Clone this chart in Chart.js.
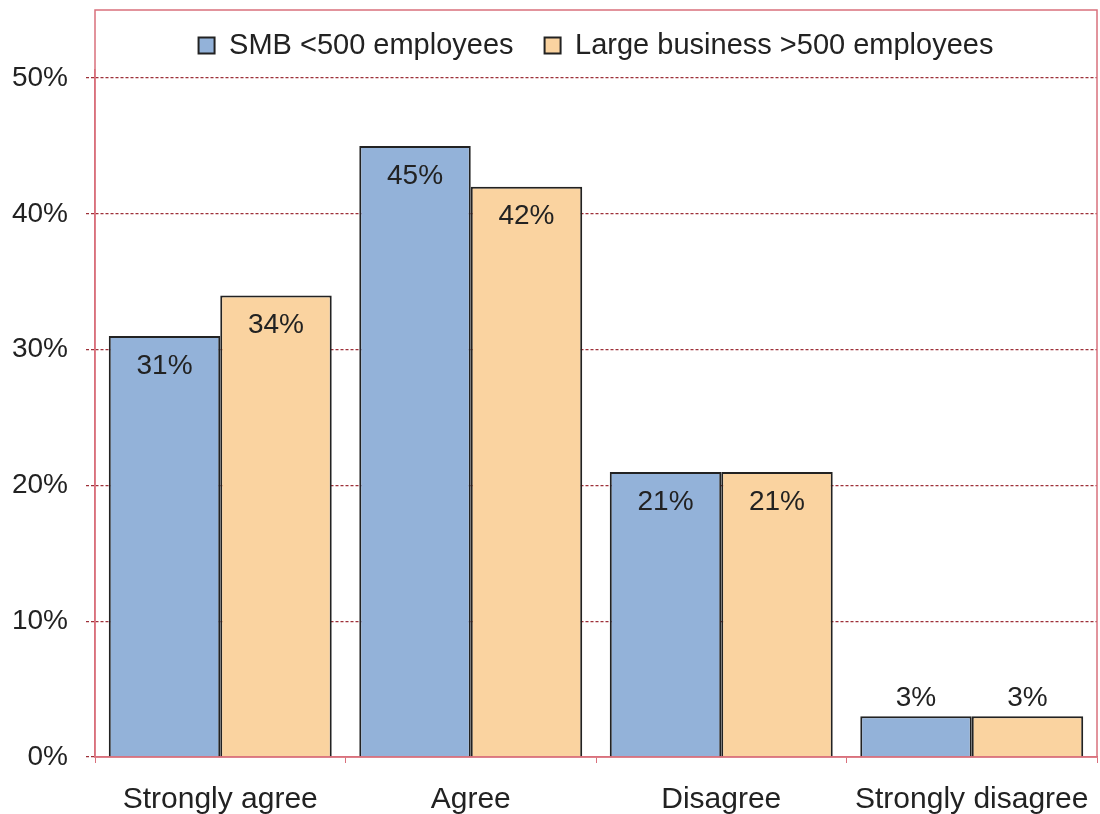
<!DOCTYPE html>
<html>
<head>
<meta charset="utf-8">
<title>Company size survey</title>
<script src="https://cdn.jsdelivr.net/npm/chart.js@4.4.1/dist/chart.umd.min.js"></script>
<style>
  html, body { margin: 0; padding: 0; background: #fff; }
  canvas { display: block; }
</style>
</head>
<body>
<canvas id="surveyChart" width="1100" height="814"></canvas>
<script>
  // answers on the x axis
  const categories = ['Strongly agree', 'Agree', 'Disagree', 'Strongly disagree'];

  // share of respondents per answer, in percent
  const smbValues = [31, 45, 21, 3];
  const largeValues = [34, 42, 21, 3];

  const seriesNames = ['SMB <500 employees', 'Large business >500 employees'];
  const yTicks = [0, 10, 20, 30, 40, 50];
  const yMax = 50.6; // a little headroom so the legend sits just above the 50% line

  const FONT = "'Liberation Sans', Arial, Helvetica, sans-serif";
  const TEXT = '#222';
  const FRAME = '#d9707c';
  const GRID = '#9e3039';

  Chart.defaults.font.family = FONT;
  Chart.defaults.font.size = 28;
  Chart.defaults.color = TEXT;

  // pink frame around the plot, reaching up to enclose the legend
  const plotFrame = {
    id: 'plotFrame',
    beforeDatasetsDraw(chart) {
      const { ctx, chartArea } = chart;
      ctx.save();
      ctx.strokeStyle = FRAME;
      ctx.lineWidth = 1.5;
      ctx.strokeRect(chartArea.left, 10, chartArea.right - chartArea.left, chartArea.bottom - 10);
      ctx.restore();
    }
  };

  // percent labels: inside the top of tall bars, above the short ones
  const valueLabels = {
    id: 'valueLabels',
    afterDatasetsDraw(chart) {
      const { ctx } = chart;
      ctx.save();
      ctx.font = '28px ' + FONT;
      ctx.fillStyle = TEXT;
      ctx.textAlign = 'center';
      ctx.textBaseline = 'middle';
      chart.data.datasets.forEach((ds, i) => {
        chart.getDatasetMeta(i).data.forEach((bar, j) => {
          const v = ds.data[j];
          const y = v >= 10 ? bar.y + 30 : bar.y - 18;
          ctx.fillText(v + '%', bar.x, y);
        });
      });
      ctx.restore();
    }
  };

  new Chart(document.getElementById('surveyChart'), {
    type: 'bar',
    data: {
      labels: categories,
      datasets: [
        {
          label: seriesNames[0],
          data: smbValues,
          backgroundColor: '#93b2d9',
          borderColor: '#222',
          borderWidth: 2,
          borderSkipped: 'bottom'
        },
        {
          label: seriesNames[1],
          data: largeValues,
          backgroundColor: '#fad3a0',
          borderColor: '#222',
          borderWidth: 2,
          borderSkipped: 'bottom'
        }
      ]
    },
    options: {
      responsive: false,
      animation: false,
      devicePixelRatio: 1,
      layout: { padding: { top: 0, left: 0, right: 3, bottom: 0 } },
      datasets: {
        bar: { categoryPercentage: 0.89, barPercentage: 1.0 }
      },
      plugins: {
        legend: {
          position: 'top',
          fullSize: false,
          labels: {
            boxWidth: 16,
            boxHeight: 16,
            padding: 31,
            color: TEXT,
            font: { size: 29 }
          }
        },
        tooltip: { enabled: false }
      },
      scales: {
        x: {
          grid: {
            offset: true,
            drawOnChartArea: false,
            drawTicks: true,
            tickLength: 6,
            tickColor: FRAME
          },
          border: { display: true, color: FRAME, width: 1.5 },
          ticks: { padding: 19, color: TEXT, font: { size: 30 } },
          afterFit(scale) {
            // labels fit inside their category, no side padding needed
            scale.height = 57;
            scale.paddingLeft = 0;
            scale.paddingRight = 0;
          }
        },
        y: {
          min: 0,
          max: yMax,
          afterBuildTicks(scale) {
            scale.ticks = yTicks.map(v => ({ value: v }));
          },
          grid: {
            color: ctx => (ctx.tick && ctx.tick.value === 0) ? 'rgba(0,0,0,0)' : GRID,
            lineWidth: 1.3,
            tickLength: 9,
            tickColor: GRID,
            tickBorderDash: [3, 2]
          },
          border: { display: true, color: FRAME, width: 1.5, dash: [3, 2] },
          ticks: {
            padding: 18,
            color: TEXT,
            font: { size: 28 },
            callback: v => v + '%'
          },
          afterFit(scale) { scale.width = 95; }
        }
      }
    },
    plugins: [plotFrame, valueLabels]
  });
</script>
</body>
</html>
